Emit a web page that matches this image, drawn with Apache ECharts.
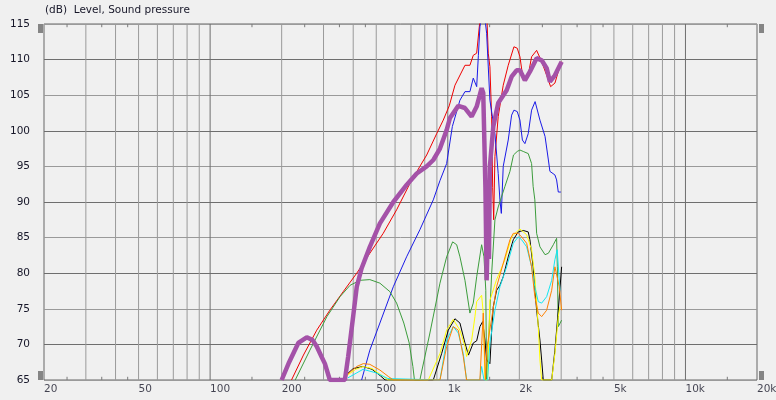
<!DOCTYPE html>
<html><head><meta charset="utf-8">
<script src="https://cdn.jsdelivr.net/npm/echarts@6/dist/echarts.min.js"></script>
<style>html,body{margin:0;padding:0;background:#f0f0f0}#c{width:776px;height:400px}</style>
</head><body><div id="c"></div>
<script>
const titleText = '(dB)  Level, Sound pressure';
const xTickLabels = [20, 50, 100, 200, 500, 1000, 2000, 5000, 10000, 20000];
const xGridValues = [30, 40, 50, 60, 70, 80, 90, 100, 200, 300, 400, 500, 600, 700, 800, 900, 1000, 2000, 3000, 4000, 5000, 6000, 7000, 8000, 9000, 10000];
const xMajorGrid = [100, 1000, 10000];
const xMinorTicks = [25, 35, 45, 150, 250, 350, 450, 1500, 2500, 3500, 4500, 15000];
const yMin = 65, yMax = 115, yStep = 5;

const redData = [[220,65],[247,68.5],[281,72.0],[319,74.8],[363,77.4],[414,80.0],[470,82.8],[535,85.6],[609,88.9],[693,92.6],[763,95.0],[815,96.6],[898,99.6],[957,101.5],[1014,103.5],[1072,106.4],[1181,109.2],[1239,109.2],[1280,110.6],[1323,110.9],[1365,115.5],[1420,117],[1460,116],[1480,110.9],[1504,109],[1529,102],[1545,92],[1560,87.5],[1579,96.4],[1630,102],[1711,106.4],[1796,109.2],[1898,111.8],[1960,111.6],[2012,110.4],[2077,107.1],[2180,107.8],[2252,110.4],[2365,111.3],[2483,109.7],[2606,107.8],[2708,106.2],[2823,106.7],[2917,108.3],[3013,109.7]];
const blueData = [[434,65],[470,69.2],[518,73.0],[590,78.1],[671,82.3],[763,86.1],[869,90.3],[927,93.0],[989,95.4],[1045,100.6],[1125,104.3],[1181,105.5],[1239,105.5],[1280,107.4],[1323,106.2],[1345,110.6],[1365,114.6],[1390,116],[1430,116],[1457,113.7],[1504,104.3],[1579,99.6],[1630,94.0],[1657,90.3],[1680,88.4],[1711,95.0],[1796,98.7],[1856,102.2],[1898,102.9],[1960,102.7],[2012,101.5],[2060,98.7],[2111,98.2],[2180,99.6],[2252,102.9],[2330,104.1],[2365,103.9],[2442,101.5],[2566,99.2],[2650,95.9],[2690,94.3],[2823,93.8],[2870,93.1],[2917,91.4],[2990,91.4]];
const greenData = [[228,65],[263,69.2],[310,73.9],[352,76.7],[388,78.3],[427,79.0],[470,79.1],[518,78.6],[571,77.4],[609,75.8],[653,73.0],[688,70.2],[713,66.9],[724,65],[763,65],[841,71.6],[927,78.6],[989,82.3],[1048,84.4],[1090,84.0],[1125,82.3],[1181,79.0],[1239,74.4],[1280,75.8],[1323,79.5],[1388,84.0],[1420,82.3],[1445,77.6],[1457,65],[1480,65],[1530,80],[1579,87.5],[1630,89.3],[1740,92.2],[1826,94.3],[1890,96.6],[1960,97.1],[2012,97.3],[2077,97.1],[2180,96.8],[2252,95.4],[2286,92.2],[2324,90.3],[2365,85.6],[2442,83.7],[2566,82.6],[2650,82.8],[2780,84.0],[2870,84.9],[2890,80.9],[2917,72.5],[3013,73.4]];
const blackData = [[370,65.6],[400,66.6],[440,66.9],[480,66.5],[520,65.6],[545,65],[869,65],[942,68.7],[1005,72.0],[1072,73.6],[1125,73.0],[1181,70.2],[1222,68.5],[1280,70.2],[1323,70.5],[1365,72.5],[1402,73.2],[1433,70.6],[1457,67.8],[1504,67.3],[1530,72],[1554,75.3],[1605,77.6],[1657,78.3],[1711,79.5],[1796,82.3],[1886,84.7],[1979,85.8],[2077,86.0],[2180,85.8],[2216,84.7],[2286,80.9],[2365,74.8],[2442,70.6],[2483,67.8],[2522,65],[2736,65],[2823,69.2],[2917,74.8],[3013,80.9]];
const yellowData = [[375,65.6],[410,66.5],[440,66.9],[480,66.6],[530,65.6],[560,65],[828,65],[927,68.7],[989,72.0],[1054,73.5],[1125,72.0],[1181,69.7],[1200,68.3],[1260,70.6],[1301,73.9],[1323,76.0],[1388,76.9],[1410,74.4],[1433,65],[1470,65],[1504,76.2],[1600,79],[1740,81.9],[1856,85.1],[1948,85.8],[2012,86.2],[2147,85.4],[2252,83.3],[2324,79.5],[2403,72.5],[2442,67.8],[2483,65],[2736,65],[2823,68.7],[2917,73.9],[2964,75.3]];
const cyanData = [[380,65.3],[440,66.5],[500,66.0],[560,65.2],[927,65],[989,70.6],[1054,72.5],[1107,71.6],[1162,68.7],[1200,65],[1365,65],[1388,66.9],[1420,65],[1470,65],[1504,70.2],[1579,74.8],[1657,78.1],[1769,80.9],[1886,84.2],[1979,85.1],[2045,84.7],[2147,83.7],[2252,80.9],[2324,78.1],[2403,76.0],[2483,75.8],[2606,76.7],[2736,79.0],[2823,81.9],[2886,83.3],[2964,77.6]];
const orangeData = [[375,65.7],[414,66.9],[441,67.3],[470,67.2],[518,66.4],[562,65.5],[590,65],[927,65],[989,69.7],[1054,72.5],[1107,72.0],[1162,68.3],[1200,65],[1365,65],[1410,74.4],[1440,65],[1457,69.2],[1605,78.1],[1826,84.7],[1886,85.6],[1979,85.6],[2045,85.1],[2147,84.2],[2252,80.9],[2324,76.7],[2403,74.4],[2483,73.9],[2606,74.8],[2736,77.6],[2823,80.9],[2944,78.1],[3013,74.8]];
const purpleData = [[200,65],[215,67.5],[235,70.2],[255,71.0],[270,70.6],[281,69.7],[295,68.2],[304,67.3],[319,65],[369,65],[381,68.3],[400,74],[414,78.1],[434,80.7],[470,83.7],[518,87.0],[590,90.0],[671,92.4],[740,94.0],[815,95.0],[869,95.9],[927,97.5],[989,100.1],[1021,101.8],[1107,103.5],[1181,103.2],[1260,102.0],[1323,103.4],[1388,106.0],[1410,105.3],[1440,92],[1457,79],[1475,86],[1490,82],[1504,95],[1554,100.6],[1630,103.9],[1769,105.7],[1856,107.6],[1948,108.5],[2012,108.5],[2111,107.1],[2216,108.3],[2365,110.2],[2483,109.9],[2606,108.8],[2690,106.9],[2823,107.8],[3013,109.7]];

const seriesDefs = [
  {name:'red', data: redData, color:'#ee0000', width:1},
  {name:'blue', data: blueData, color:'#1a1ae6', width:1},
  {name:'green', data: greenData, color:'#3c9c3c', width:1},
  {name:'black', data: blackData, color:'#000000', width:1},
  {name:'yellow', data: yellowData, color:'#ffff00', width:1},
  {name:'cyan', data: cyanData, color:'#14e6f0', width:1},
  {name:'orange', data: orangeData, color:'#ff8000', width:1},
  {name:'purple', data: purpleData, color:'#a452a8', width:4.5}
];

const chart = echarts.init(document.getElementById('c'), null, {renderer:'canvas'});
const FONT = 'DejaVu Sans';
const TXT = '#161628';
const darkGrid = '#6e6e6e', lightGrid = '#9a9a9a';

function segs(values, y0, y1) {
  const out = [];
  values.forEach(v => { out.push([v, y0], [v, y1], '-'); });
  return out;
}
const gridSeriesBase = {type:'line', silent:true, showSymbol:false, symbol:'none', connectNulls:false, clip:false, z:1};

const series = [
  Object.assign({}, gridSeriesBase, {name:'gridLight', data: segs(xGridValues.filter(v => !xMajorGrid.includes(v)), yMin, yMax), lineStyle:{color:lightGrid, width:1}}),
  Object.assign({}, gridSeriesBase, {name:'gridDark', data: segs(xMajorGrid, yMin, yMax), lineStyle:{color:darkGrid, width:1}}),
  Object.assign({}, gridSeriesBase, {name:'minorBottom', data: segs(xMinorTicks, yMin, yMin + 0.45), lineStyle:{color:'#7a7a7a', width:1}}),
  Object.assign({}, gridSeriesBase, {name:'minorTop', data: segs(xMinorTicks, yMax, yMax - 0.45), lineStyle:{color:'#7a7a7a', width:1}}),
  {
    type:'scatter', name:'xlabels', silent:true, clip:false, symbolSize:0, z:1,
    data: xTickLabels.map(v => [v, yMin]),
    label:{show:true, position:'bottom', distance:4, align:'left', color:TXT, fontFamily:FONT, fontSize:10.5,
      formatter: p => { const v = p.value[0]; return v >= 1000 ? (v/1000)+'k' : String(v); }}
  }
];
seriesDefs.forEach(s => series.push({
  type:'line', name:s.name, data:s.data, showSymbol:false, symbol:'none', clip:true,
  lineStyle:{color:s.color, width:s.width}, itemStyle:{color:s.color}, z: s.name==='purple'?5:3, silent:true
}));

chart.setOption({
  animation:false,
  backgroundColor:'#f0f0f0',
  title:{text:titleText, left:40, top:0, textStyle:{fontFamily:FONT, fontSize:10.5, fontWeight:'normal', color:TXT}},
  grid:{left:44, right:19, top:24, bottom:20, show:true, borderColor:'#666666', borderWidth:1, backgroundColor:'transparent'},
  xAxis:{type:'log', logBase:10, min:20, max:20000, axisLabel:{show:false}, axisTick:{show:false}, splitLine:{show:false}, axisLine:{show:false}},
  yAxis:{type:'value', min:yMin, max:yMax, interval:yStep,
    axisLabel:{color:TXT, fontFamily:FONT, fontSize:10.5, margin:14},
    axisTick:{show:false}, axisLine:{show:false},
    splitLine:{show:true, lineStyle:{color:[lightGrid, darkGrid], width:1}}},
  graphic:[
    {type:'rect', shape:{x:38, y:24, width:5, height:9}, style:{fill:'#858585'}},
    {type:'rect', shape:{x:38, y:371, width:5, height:9}, style:{fill:'#858585'}},
    {type:'rect', shape:{x:759, y:24, width:5, height:9}, style:{fill:'#858585'}},
    {type:'rect', shape:{x:759, y:371, width:5, height:9}, style:{fill:'#858585'}}
  ],
  series: series
});
</script></body></html>
